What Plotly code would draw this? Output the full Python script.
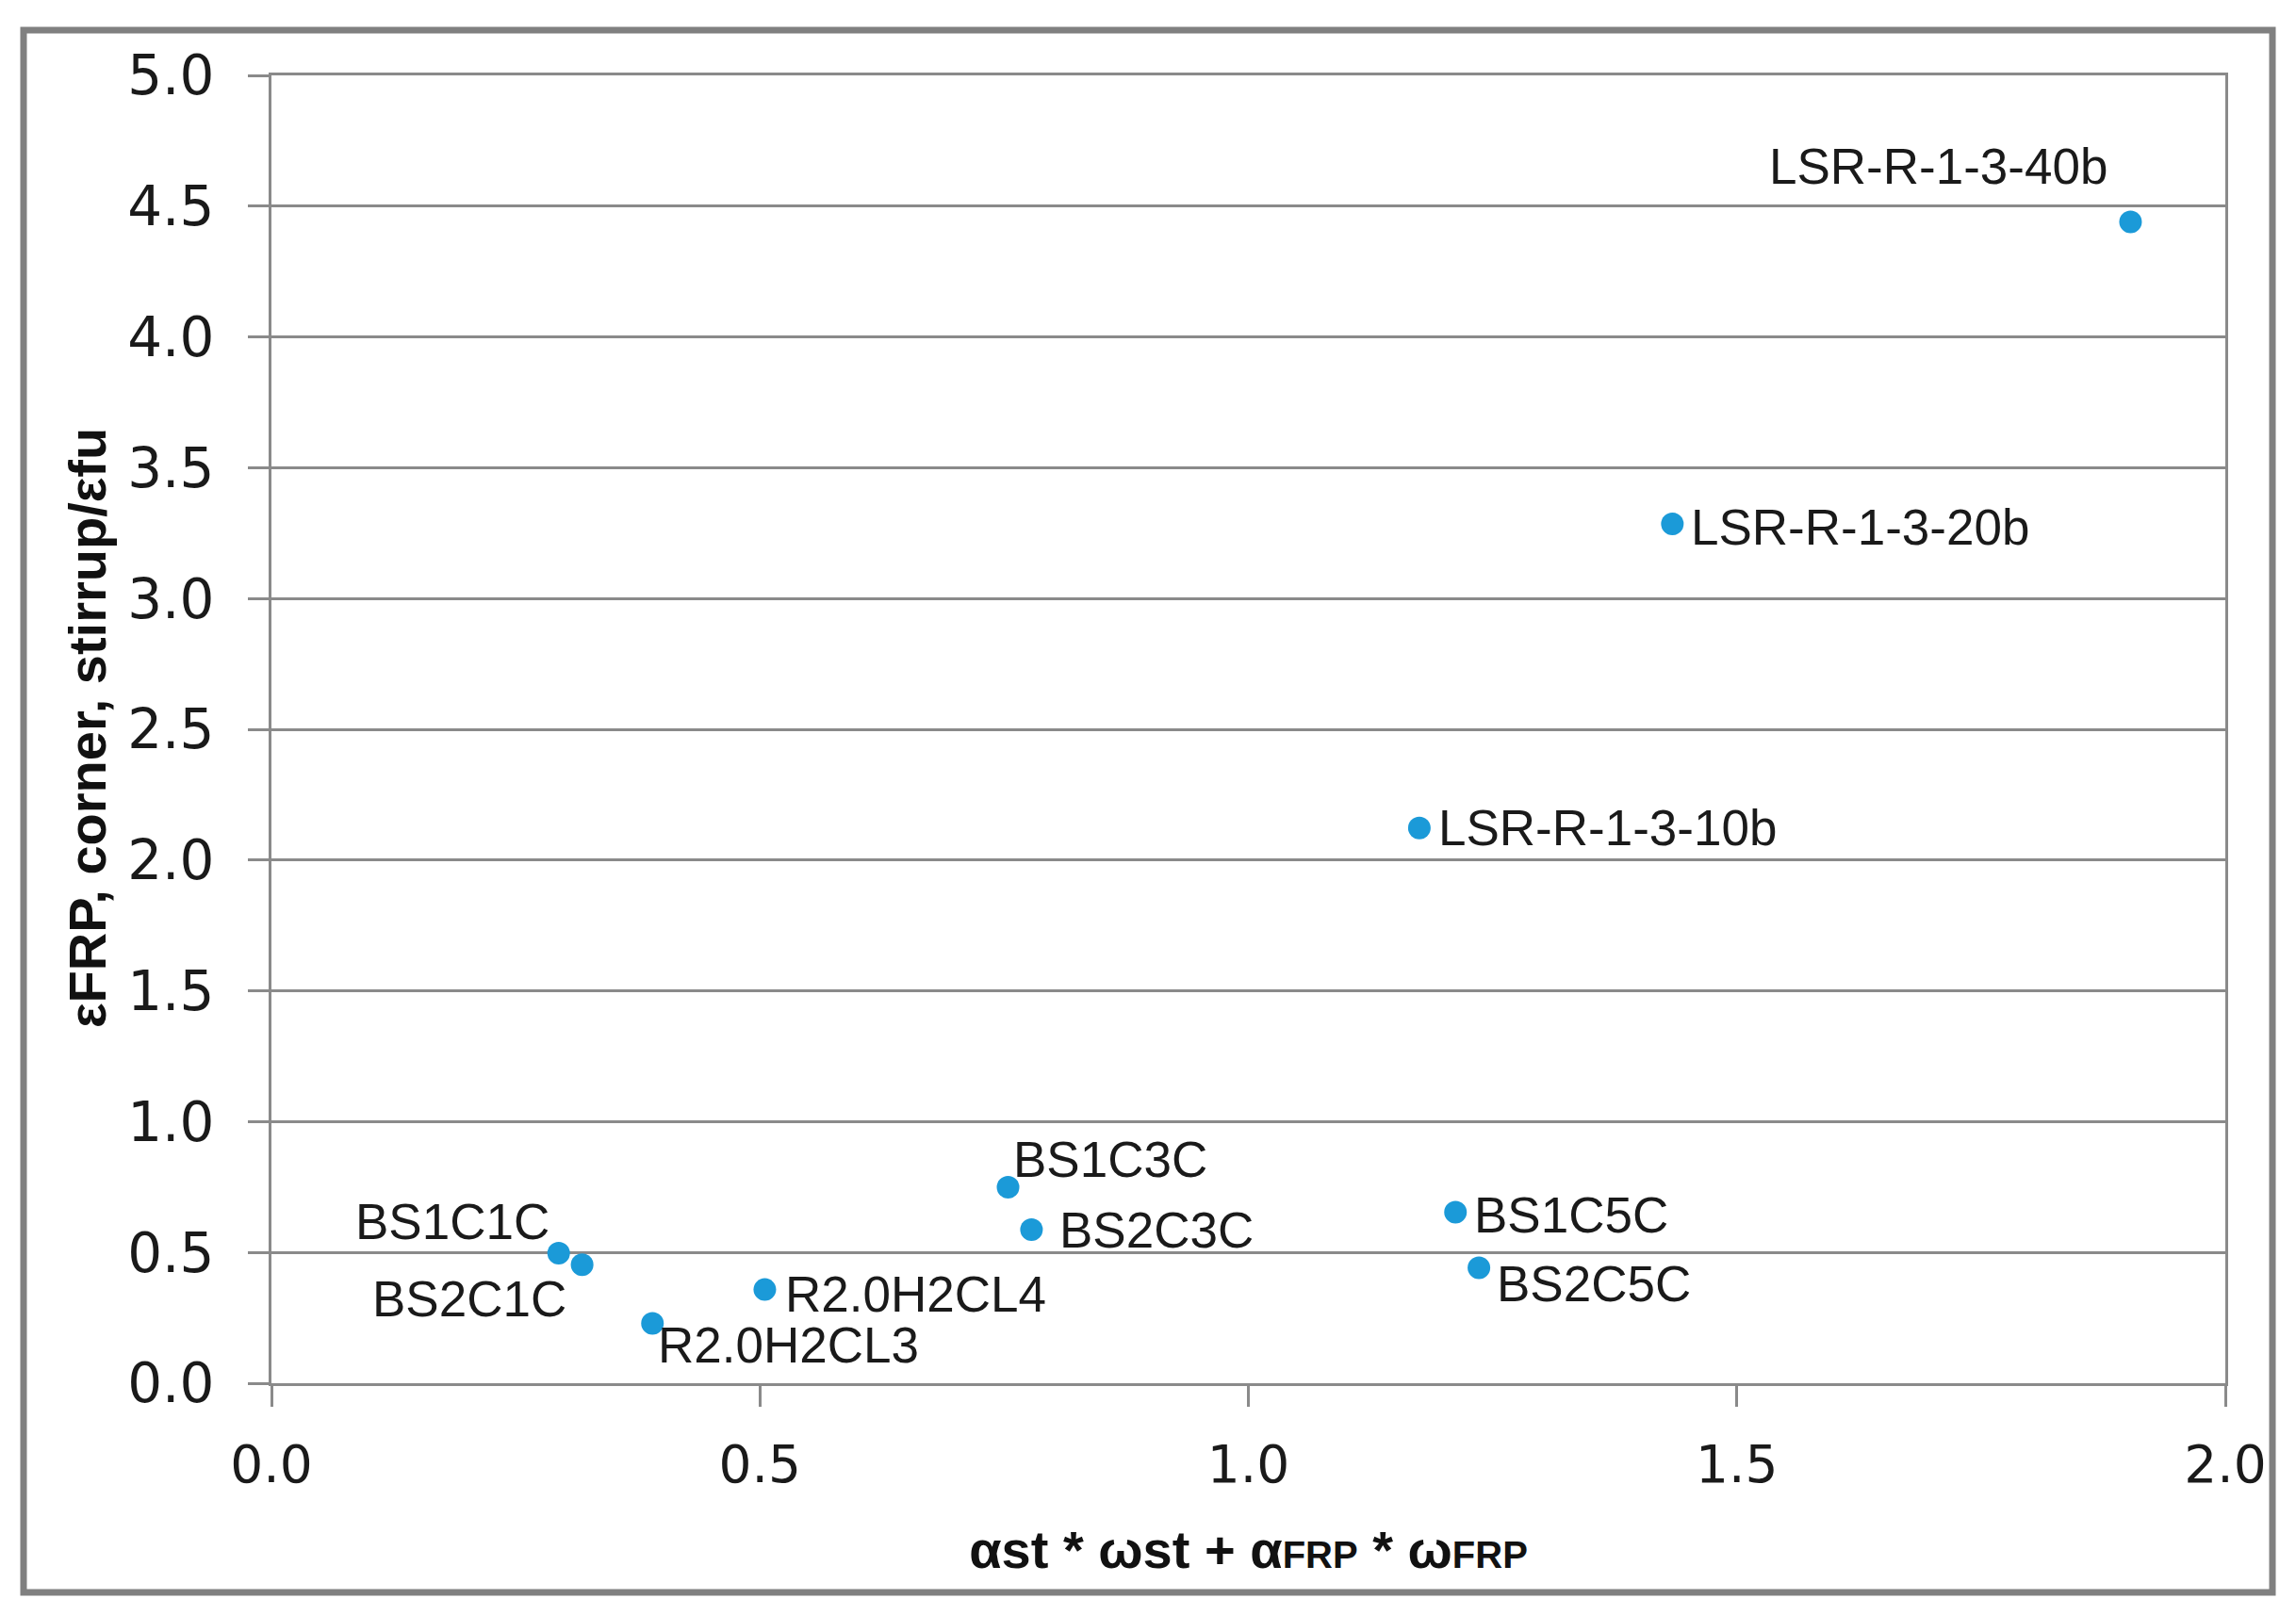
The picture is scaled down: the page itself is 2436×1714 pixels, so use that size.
import plotly.graph_objects as go

labels = ["LSR-R-1-3-40b", "LSR-R-1-3-20b", "LSR-R-1-3-10b", "BS1C3C", "BS2C3C",
          "BS1C5C", "BS2C5C", "BS1C1C", "BS2C1C", "R2.0H2CL3", "R2.0H2CL4"]
x_vals = [1.903, 1.434, 1.175, 0.754, 0.778, 1.212, 1.236, 0.294, 0.318, 0.390, 0.505]
y_vals = [4.44, 3.285, 2.123, 0.749, 0.587, 0.654, 0.441, 0.497, 0.453, 0.229, 0.358]

x_ticks = [0.0, 0.5, 1.0, 1.5, 2.0]
y_ticks = [0.0, 0.5, 1.0, 1.5, 2.0, 2.5, 3.0, 3.5, 4.0, 4.5, 5.0]

# label placement (style only): xanchor, xshift, yshift
label_style = {
    "LSR-R-1-3-40b": ("right", -22, 59),
    "LSR-R-1-3-20b": ("left", 18, -3),
    "LSR-R-1-3-10b": ("left", 18, 0),
    "BS1C3C": ("left", 3, 30),
    "BS2C3C": ("left", 28, 0),
    "BS1C5C": ("left", 18, -3),
    "BS2C5C": ("left", 17, -17),
    "BS1C1C": ("right", -8, 34),
    "BS2C1C": ("right", -15, -36),
    "R2.0H2CL3": ("left", 4, -23),
    "R2.0H2CL4": ("left", 20, -5),
}

GRID = "#8a8a8a"
fig = go.Figure()
fig.add_trace(go.Scatter(
    x=x_vals, y=y_vals, mode="markers",
    marker=dict(color="#1b9ad8", size=24, line=dict(width=0)),
    showlegend=False, hoverinfo="text", text=labels,
))

for lab, xv, yv in zip(labels, x_vals, y_vals):
    anc, xs, ys = label_style[lab]
    fig.add_annotation(
        x=xv, y=yv, text=lab, showarrow=False, xanchor=anc, yanchor="middle",
        xshift=xs, yshift=ys,
        font=dict(family="Liberation Sans", size=53, color="#1a1a1a"),
    )

# page has an 8px body margin; figure coordinates = page coordinates - 8
W, H = 2428, 1706
L, T = 288 - 8, 80 - 8
R = W - (2361 - 8)
B = H - (1468 - 8)
pw, ph = W - L - R, H - T - B

def px(xp):
    return (xp - 8 - L) / pw

def py(yp):
    return (H - B - (yp - 8)) / ph

fig.add_shape(type="rect", xref="paper", yref="paper",
              x0=px(25), x1=px(2411), y0=py(1690), y1=py(32),
              line=dict(color="#808080", width=7), fillcolor="rgba(0,0,0,0)")

small = "<span style='font-size:40px'>"
xtitle = ("<b>α</b><b>st * ω</b><b>st + α</b><b>" + small + "FRP</span></b>"
          "<b> * ω</b><b>" + small + "FRP</span></b>")
ytitle = "<b>εFRP, corner, stirrup/εfu</b>"

fig.add_annotation(
    xref="paper", yref="paper", x=px(92), y=py(773), text=ytitle,
    textangle=-90, showarrow=False, xanchor="center", yanchor="middle",
    font=dict(family="Liberation Sans", size=56, color="#111"),
)

fig.update_layout(
    width=W, height=H,
    margin=dict(l=L, r=R, t=T, b=B),
    paper_bgcolor="white", plot_bgcolor="white",
    font=dict(family="DejaVu Sans", color="#1a1a1a"),
    xaxis=dict(
        range=[0, 2.0], tickvals=x_ticks, ticktext=[f"{v:.1f}" for v in x_ticks],
        showgrid=False, zeroline=False,
        showline=True, linecolor=GRID, linewidth=3, mirror=True,
        ticks="outside", ticklen=22, tickwidth=3, tickcolor=GRID,
        tickfont=dict(family="DejaVu Sans", size=55, color="#1a1a1a"),
        ticklabelstandoff=14,
        title=dict(text=xtitle, standoff=40,
                   font=dict(family="Liberation Sans", size=56, color="#111")),
    ),
    yaxis=dict(
        range=[0, 5.0], tickvals=y_ticks, ticktext=[f"{v:.1f}" for v in y_ticks],
        showgrid=True, gridcolor=GRID, gridwidth=3, zeroline=False,
        showline=True, linecolor=GRID, linewidth=3, mirror=True,
        ticks="outside", ticklen=22, tickwidth=3, tickcolor=GRID,
        tickfont=dict(family="DejaVu Sans", size=58, color="#1a1a1a"),
        ticklabelstandoff=24,
    ),
)

fig.write_html("out.html")
